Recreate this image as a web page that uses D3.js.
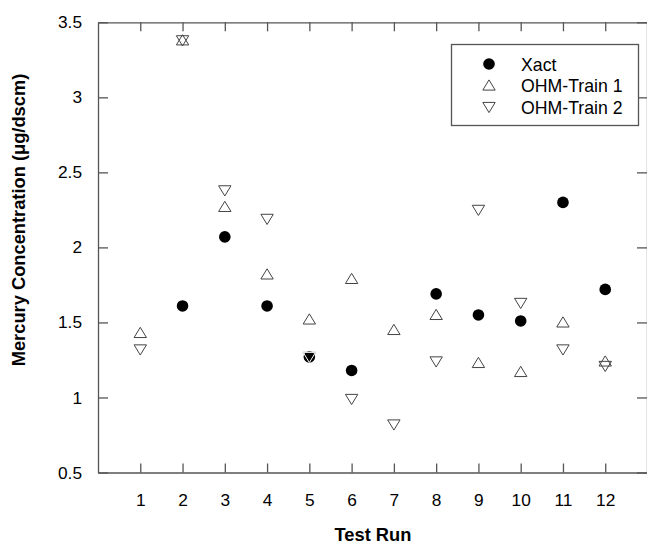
<!DOCTYPE html>
<html>
<head>
<meta charset="utf-8">
<script src="https://cdn.jsdelivr.net/npm/d3@7"></script>
<style>
  body { margin: 0; background: #fff; }
  text { font-family: "Liberation Sans", Arial, sans-serif; }
</style>
</head>
<body>
<div id="chart"></div>
<script>
// data
let runs = [1, 2, 3, 4, 5, 6, 7, 8, 9, 10, 11, 12];
let xact = [null, 1.61, 2.07, 1.61, 1.27, 1.18, null, 1.69, 1.55, 1.51, 2.30, 1.72];
let ohm1 = [1.43, 3.38, 2.27, 1.82, 1.52, 1.79, 1.45, 1.55, 1.23, 1.17, 1.50, 1.24];
let ohm2 = [1.32, 3.38, 2.38, 2.19, 1.27, 0.99, 0.82, 1.24, 2.25, 1.63, 1.32, 1.21];
let yTicks = [0.5, 1, 1.5, 2, 2.5, 3, 3.5];
let legendNames = ["Xact", "OHM-Train 1", "OHM-Train 2"];

let width = 647, height = 545;
let plotLeft = 98, plotRight = 647.5, plotTop = 22.3, plotBottom = 472.5;
let axisColor = "#555";

let svg = d3.select("#chart")
  .append("svg")
  .attr("width", width)
  .attr("height", height);

let xScale = d3.scaleLinear().domain([0, 13]).range([plotLeft, plotRight]);
let yScale = d3.scaleLinear().domain([0.5, 3.5]).range([plotBottom, plotTop]);

// frame with inward ticks
function styleAxis(g) {
  g.selectAll("path, line").attr("stroke", axisColor).attr("stroke-width", 1.3);
  g.selectAll("text").attr("font-size", 17.3).attr("fill", "#000");
}

svg.append("g")
  .attr("transform", `translate(0,${plotBottom})`)
  .call(d3.axisBottom(xScale).tickValues(runs).tickSizeInner(-9).tickSizeOuter(0).tickPadding(21))
  .call(styleAxis);

svg.append("g")
  .attr("transform", `translate(0,${plotTop})`)
  .call(d3.axisTop(xScale).tickValues(runs).tickSizeInner(-9).tickSizeOuter(0).tickFormat(""))
  .call(styleAxis);

svg.append("g")
  .attr("transform", `translate(${plotLeft},0)`)
  .call(d3.axisLeft(yScale).tickValues(yTicks).tickSizeInner(-10).tickSizeOuter(0).tickPadding(16)
    .tickFormat(d3.format("")))
  .call(styleAxis);

svg.append("g")
  .attr("transform", `translate(${plotRight - 0.5},0)`)
  .call(d3.axisRight(yScale).tickValues(yTicks).tickSizeInner(-10).tickSizeOuter(0).tickFormat(""))
  .call(styleAxis);

// marker shapes
function triUp(cx, cy) {
  return `M${cx - 6.2},${cy + 4.6} L${cx + 6.2},${cy + 4.6} L${cx},${cy - 5.6} Z`;
}
function triDown(cx, cy) {
  return `M${cx - 6.2},${cy - 4.6} L${cx + 6.2},${cy - 4.6} L${cx},${cy + 5.6} Z`;
}

let pts = svg.append("g").attr("class", "points");

pts.selectAll("path.up")
  .data(runs)
  .enter()
  .append("path")
  .attr("class", "up")
  .attr("d", (d, i) => triUp(xScale(d), yScale(ohm1[i])))
  .attr("fill", "none")
  .attr("stroke", "#444")
  .attr("stroke-width", 1);

pts.selectAll("path.down")
  .data(runs)
  .enter()
  .append("path")
  .attr("class", "down")
  .attr("d", (d, i) => triDown(xScale(d), yScale(ohm2[i])))
  .attr("fill", "none")
  .attr("stroke", "#444")
  .attr("stroke-width", 1);

pts.selectAll("circle")
  .data(runs.filter((d, i) => xact[i] != null))
  .enter()
  .append("circle")
  .attr("cx", d => xScale(d))
  .attr("cy", d => yScale(xact[d - 1]))
  .attr("r", 5.8)
  .attr("fill", "#000");

// run 5: the down triangle sits on top of the dot
pts.append("path")
  .attr("d", triDown(xScale(5), yScale(ohm2[4])))
  .attr("fill", "none")
  .attr("stroke", "#fff")
  .attr("stroke-width", 1);

// legend
let lg = svg.append("g").attr("class", "legend");
lg.append("rect")
  .attr("x", 451.5).attr("y", 44.5)
  .attr("width", 187).attr("height", 81)
  .attr("fill", "#fff")
  .attr("stroke", axisColor)
  .attr("stroke-width", 1.3);

let rowY = [64, 85.5, 107];
lg.append("circle").attr("cx", 489).attr("cy", rowY[0]).attr("r", 5.8).attr("fill", "#000");
lg.append("path").attr("d", triUp(489, rowY[1])).attr("fill", "none").attr("stroke", "#444");
lg.append("path").attr("d", triDown(489, rowY[2])).attr("fill", "none").attr("stroke", "#444");

lg.selectAll("text")
  .data(legendNames)
  .enter()
  .append("text")
  .attr("x", 521)
  .attr("y", (d, i) => rowY[i] + 6.5)
  .attr("font-size", 17.7)
  .text(d => d);

// axis titles
svg.append("text")
  .attr("x", 373)
  .attr("y", 541)
  .attr("text-anchor", "middle")
  .attr("font-size", 18.3)
  .attr("font-weight", "bold")
  .text("Test Run");

svg.append("text")
  .attr("transform", `translate(25,220) rotate(-90)`)
  .attr("text-anchor", "middle")
  .attr("font-size", 18.3)
  .attr("font-weight", "bold")
  .text("Mercury Concentration (\u03bcg/dscm)");
</script>
</body>
</html>
